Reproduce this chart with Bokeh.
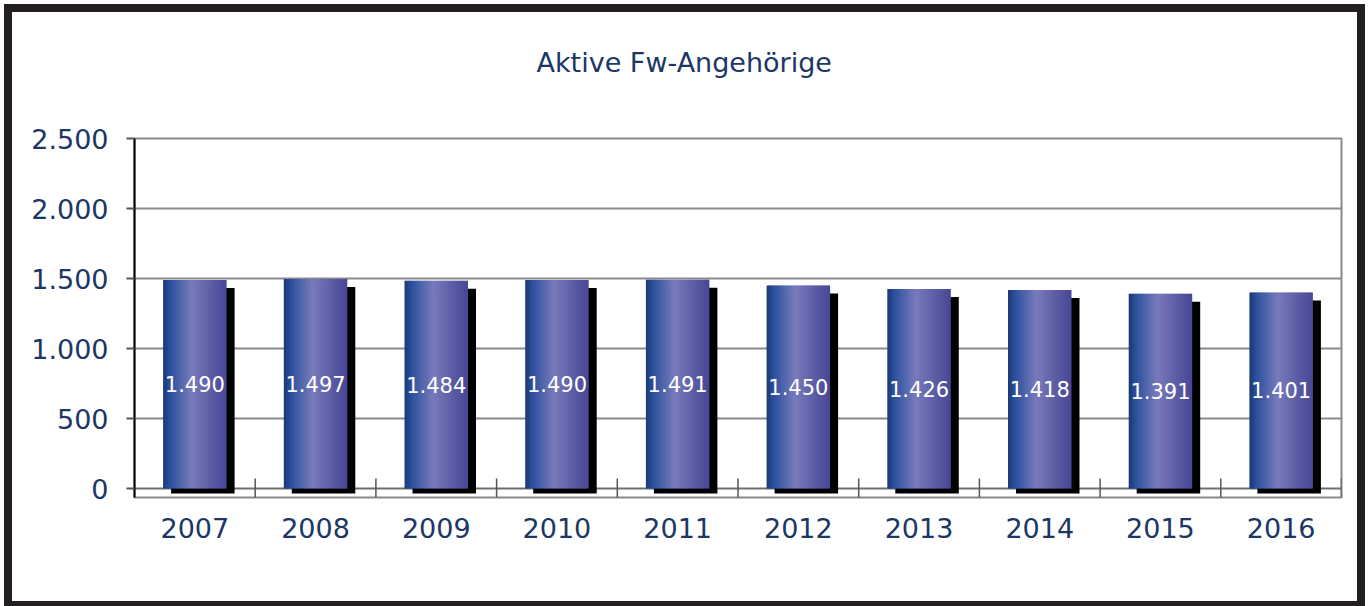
from bokeh.plotting import figure
from bokeh.models import Range1d, FixedTicker, Span, Title
from bokeh.core.properties import value
from bokeh.embed import file_html
from bokeh.resources import INLINE

# ---- data ----
years = ["2007", "2008", "2009", "2010", "2011", "2012", "2013", "2014", "2015", "2016"]
members = [1490, 1497, 1484, 1490, 1491, 1450, 1426, 1418, 1391, 1401]
bar_labels = ["1.490", "1.497", "1.484", "1.490", "1.491", "1.450", "1.426", "1.418", "1.391", "1.401"]
y_ticks = [0, 500, 1000, 1500, 2000, 2500]
y_tick_labels = ["0", "500", "1.000", "1.500", "2.000", "2.500"]

NAVY = "#1c3766"
MARGIN = 12
W, H = 1345, 589
FRAME_L, FRAME_R, FRAME_T, FRAME_B = 122, 1329, 126, 485
Y0, Y1 = -64, 2500
px_per_unit = (FRAME_B - FRAME_T) / (Y1 - Y0)
n = len(years)
px_per_cat = (FRAME_R - FRAME_L) / n

p = figure(width=W, height=H, output_backend="svg", toolbar_location=None,
           x_range=Range1d(0, n), y_range=Range1d(Y0, Y1),
           min_border_left=FRAME_L, min_border_right=W - FRAME_R,
           min_border_top=FRAME_T, min_border_bottom=H - FRAME_B,
           background_fill_color="white", border_fill_color="white",
           outline_line_color="#8a8a8a", outline_line_width=2)
# thick black frame around the whole chart (drawn outside the canvas box)
p.styles = {"outline": "8px solid #231f20", "outline-offset": "0px",
            "margin": f"{MARGIN}px"}

# title: a thin spacer next to the frame, then the visible title above it
p.title_location = None
p.add_layout(Title(text=" ", text_font_size="1px", standoff=53), "above")
p.add_layout(Title(text="Aktive Fw-Angehörige", align="left", offset=402,
                   text_font="DejaVu Sans", text_font_size="27px",
                   text_font_style="normal", text_color=NAVY, standoff=10), "above")

# grid
p.xgrid.visible = False
p.ygrid.ticker = FixedTicker(ticks=y_ticks[1:])
p.ygrid.grid_line_color = "#8a8a8a"
p.ygrid.grid_line_width = 2

# y axis
p.yaxis.ticker = FixedTicker(ticks=y_ticks)
p.yaxis.major_label_overrides = {t: l for t, l in zip(y_ticks, y_tick_labels)}
p.yaxis.axis_line_color = "black"
p.yaxis.axis_line_width = 2
p.yaxis.major_tick_line_color = "#555555"
p.yaxis.major_tick_line_width = 2
p.yaxis.major_tick_out = 8
p.yaxis.major_tick_in = 0
p.yaxis.minor_tick_line_color = None
p.yaxis.major_label_standoff = 18
p.yaxis.major_label_text_font = "DejaVu Sans"
p.yaxis.major_label_text_font_size = "27px"
p.yaxis.major_label_text_color = NAVY

# x axis (labels only)
centers = [i + 0.5 for i in range(n)]
p.xaxis.ticker = FixedTicker(ticks=centers)
p.xaxis.major_label_overrides = {c: y for c, y in zip(centers, years)}
p.xaxis.axis_line_color = None
p.xaxis.major_tick_line_color = None
p.xaxis.minor_tick_line_color = None
p.xaxis.major_label_standoff = 14
p.xaxis.major_label_text_font = "DejaVu Sans"
p.xaxis.major_label_text_font_size = "27px"
p.xaxis.major_label_text_color = NAVY

# zero line (below bars) and crossing ticks
p.add_layout(Span(location=0, dimension="width", line_color="#6e6e6e", line_width=2,
                  level="underlay"))
bounds = list(range(1, n + 1))
p.segment(x0=bounds, x1=bounds, y0=[Y0] * len(bounds), y1=[10 / px_per_unit] * len(bounds),
          line_color="#555555", line_width=1.5)

# bars
bw = 63.5 / px_per_cat
dx = 8 / px_per_cat
dy = 8 / px_per_unit
shadow_bottom = -5 / px_per_unit

# shadows
p.quad(left=[c - bw / 2 + dx for c in centers], right=[c + bw / 2 + dx for c in centers],
       top=[v - dy for v in members], bottom=[shadow_bottom] * n,
       fill_color="black", line_color=None)

# gradient stops (style)
stops = [(0.0, (0x1c, 0x37, 0x74)), (0.12, (0x2d, 0x52, 0x9e)), (0.45, (0x79, 0x7b, 0xbb)),
         (0.8, (0x58, 0x58, 0xa2)), (1.0, (0x48, 0x47, 0x96))]


def grad(t):
    for (t0, c0), (t1, c1) in zip(stops[:-1], stops[1:]):
        if t <= t1:
            f = (t - t0) / (t1 - t0)
            return "#%02x%02x%02x" % tuple(int(round(a + (b - a) * f)) for a, b in zip(c0, c1))
    return "#%02x%02x%02x" % stops[-1][1]


N = 40
L, R, T, B, C = [], [], [], [], []
for c, v in zip(centers, members):
    for k in range(N):
        left = c - bw / 2 + k * bw / N
        right = left + bw / N
        L.append(left)
        R.append(min(right + bw / N * 0.5, c + bw / 2))
        T.append(v)
        B.append(0)
        C.append(grad((k + 0.5) / N))
p.quad(left=L, right=R, top=T, bottom=B, fill_color=C, line_color=None)

# value labels
p.text(x=centers, y=[v / 2 for v in members], text=bar_labels,
       text_align="center", text_baseline="middle",
       text_font=value("DejaVu Sans"), text_font_size="21px", text_color="white")

open("out.html", "w").write(file_html(p, INLINE))
